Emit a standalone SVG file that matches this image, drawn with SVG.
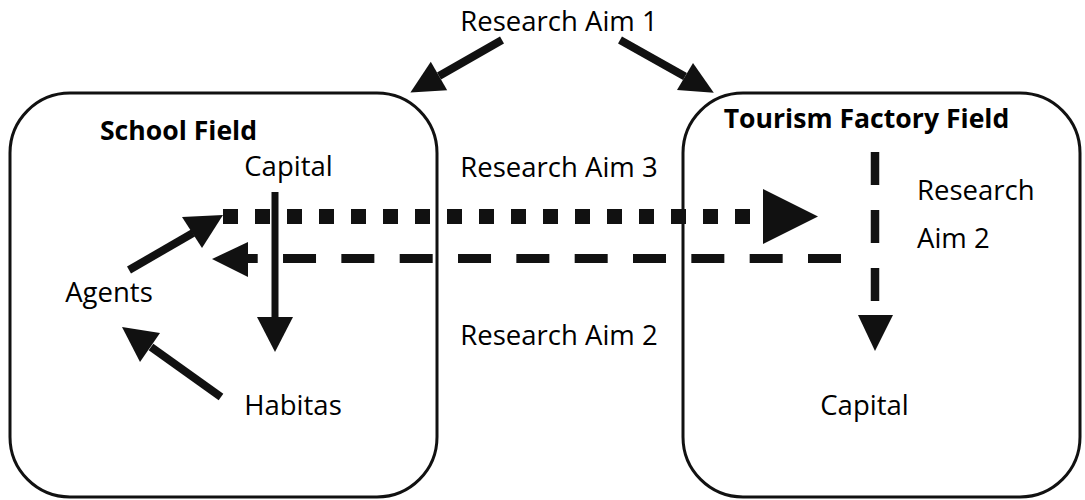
<svg xmlns="http://www.w3.org/2000/svg" width="1085" height="500" viewBox="0 0 1085 500">
<style>
text{font-family:"Open Sans","Liberation Sans",sans-serif;font-size:27.5px;fill:#000}
.b{font-weight:bold;font-size:26.6px}
.box{fill:none;stroke:#111;stroke-width:3}
.shaft{stroke:#111;fill:none}
.head{fill:#111;stroke:none}
</style>
<rect width="1085" height="500" fill="#fff"/>
<g id="aim1"><text x="559" y="31" text-anchor="middle">Research Aim 1</text></g>
<g id="school-field">
<rect class="box" x="10" y="93" width="427" height="404" rx="60" ry="60"/>
<text class="b" x="178.5" y="140" text-anchor="middle">School Field</text>
</g>
<g id="capital-left"><text x="288.5" y="176" text-anchor="middle">Capital</text></g>
<g id="agents"><text x="109" y="302" text-anchor="middle">Agents</text></g>
<g id="habitas"><text x="293" y="415" text-anchor="middle">Habitas</text></g>
<g id="tourism-field">
<rect class="box" x="683" y="93" width="397" height="404" rx="60" ry="60"/>
<text class="b" x="866.5" y="127.5" text-anchor="middle">Tourism Factory Field</text>
</g>
<g id="capital-right"><text x="864.5" y="415" text-anchor="middle">Capital</text></g>
<g id="aim3"><text x="559" y="177" text-anchor="middle">Research Aim 3</text></g>
<g id="aim2-mid"><text x="559" y="345" text-anchor="middle">Research Aim 2</text></g>
<g id="aim2-right"><text x="917" y="200">Research</text><text x="917" y="248">Aim 2</text></g>
<g id="connectors">
<line class="shaft" x1="502" y1="40" x2="439" y2="76" stroke-width="8"/>
<polygon class="head" points="410.4,92.4 447.2,90.3 430.8,61.7"/>
<line class="shaft" x1="620" y1="40" x2="685" y2="76.5" stroke-width="8"/>
<polygon class="head" points="713.8,92.7 693,63 677,90"/>
<line class="shaft" x1="275" y1="192" x2="275" y2="318" stroke-width="7"/>
<polygon class="head" points="257,317 293,317 275,352"/>
<line class="shaft" x1="129" y1="270" x2="193" y2="233" stroke-width="8"/>
<polygon class="head" points="223,215 182,217 202,248"/>
<line class="shaft" x1="221" y1="397" x2="151" y2="347" stroke-width="8"/>
<polygon class="head" points="122,327 160,333 140,362"/>
<line class="shaft" x1="223" y1="216.5" x2="751" y2="216.5" stroke-width="15" stroke-dasharray="15 17"/>
<polygon class="head" points="763,189 763,244 818,216.5"/>
<line class="shaft" x1="841" y1="258.5" x2="248" y2="258.5" stroke-width="9" stroke-dasharray="33 25.33"/>
<polygon class="head" points="212,259 248,242 248,277"/>
<line class="shaft" x1="875" y1="152" x2="875" y2="302" stroke-width="8.5" stroke-dasharray="33 25"/>
<polygon class="head" points="858,315 893,315 875,351"/>
</g>
</svg>
